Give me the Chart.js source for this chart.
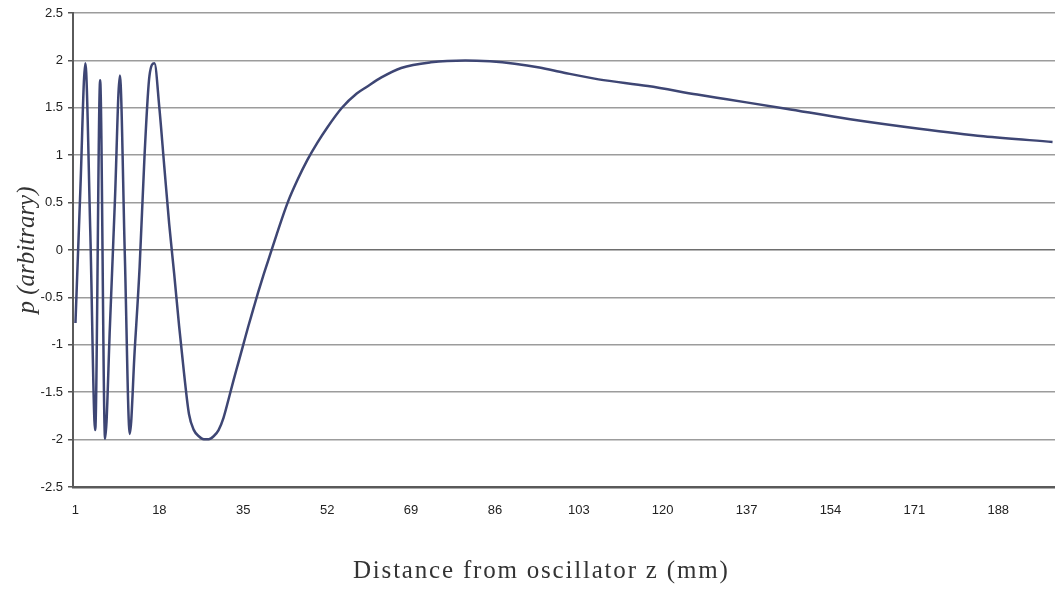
<!DOCTYPE html>
<html>
<head>
<meta charset="utf-8">
<script src="https://cdn.jsdelivr.net/npm/chart.js@4.4.1/dist/chart.umd.min.js"></script>
<style>
    body { margin: 0; background: #fff; }
    #wrap { position: relative; width: 1055px; height: 594px; }
    #xtitle {
        position: absolute; left: 353px; top: 557px;
        font-family: "Liberation Serif", serif; font-size: 25px; line-height: 25px;
        letter-spacing: 1.8px; color: #333; white-space: nowrap;
    }
</style>
</head>
<body>
<div id="wrap">
    <canvas id="p_Chart" width="1055" height="594"></canvas>
    <div id="xtitle">Distance from oscillator z (mm)</div>
</div>
<script>
// distance z (mm) and pressure p
const zValues = [
    1, 2, 3, 4, 5, 6, 7, 8, 9, 10,
    11, 12, 13, 14, 15, 16, 17, 18, 19, 20,
    21, 22, 23, 24, 25, 26, 27, 28, 29, 30,
    31, 32, 33, 34, 35, 36, 37, 38, 39, 40,
    41, 42, 44, 46, 48, 50, 52, 55, 58, 60,
    63, 67, 73, 80, 85, 90, 95, 100, 107, 117,
    127, 133, 145, 158, 172, 185, 199
];
const pValues = [
    -0.77, 0.65, 1.97, 0.2, -1.9, 1.79, -1.99, -0.78, 0.53, 1.84,
    -0.05, -1.94, -1.06, -0.18, 1.0, 1.84, 1.97, 1.5, 0.88, 0.27,
    -0.25, -0.8, -1.3, -1.73, -1.9, -1.965, -1.996, -1.996, -1.965, -1.9,
    -1.77, -1.58, -1.38, -1.19, -1.0, -0.81, -0.63, -0.45, -0.28, -0.12,
    0.04, 0.2, 0.5, 0.74, 0.95, 1.13, 1.29, 1.5, 1.65, 1.72,
    1.82, 1.92, 1.98, 2.0, 1.99, 1.965, 1.925, 1.87, 1.8, 1.73,
    1.64, 1.59, 1.49, 1.38, 1.28, 1.2, 1.14
];
const xTickLabels = [1, 18, 35, 52, 69, 86, 103, 120, 137, 154, 171, 188];

document.addEventListener('DOMContentLoaded', (event) => {
    const points = zValues.map((z, i) => ({ x: z, y: pValues[i] }));
    const ctx = document.getElementById('p_Chart').getContext('2d');
    new Chart(ctx, {
        type: 'line',
        data: {
            datasets: [{
                data: points,
                borderColor: '#3e4674',
                borderWidth: 2.5,
                pointRadius: 0,
                cubicInterpolationMode: 'monotone',
                fill: false
            }]
        },
        options: {
            responsive: false,
            animation: false,
            layout: {
                padding: { top: 13, right: 0, bottom: 0, left: 0 }
            },
            plugins: {
                legend: { display: false },
                tooltip: { enabled: false }
            },
            scales: {
                x: {
                    type: 'linear',
                    min: 0.5,
                    max: 199.5,
                    afterBuildTicks: (scale) => {
                        scale.ticks = xTickLabels.map(v => ({ value: v }));
                    },
                    afterFit: (scale) => {
                        scale.height = 107; // room below the axis, title is html
                    },
                    grid: { display: false, drawTicks: false },
                    border: { display: true, color: '#5a5a5a', width: 2.5 },
                    ticks: {
                        autoSkip: false,
                        maxRotation: 0,
                        padding: 16,
                        color: '#222',
                        font: { family: '"Liberation Sans", Arial, sans-serif', size: 13 },
                        callback: (value) => value
                    }
                },
                y: {
                    min: -2.5,
                    max: 2.5,
                    afterFit: (scale) => {
                        scale.width = 73;
                    },
                    grid: {
                        color: (c) => (c.tick && c.tick.value === 0) ? '#6e6e6e' : '#9c9c9c',
                        lineWidth: 1.5,
                        drawTicks: true,
                        tickLength: 5,
                        tickColor: '#555'
                    },
                    border: { display: true, color: '#5a5a5a', width: 2 },
                    ticks: {
                        stepSize: 0.5,
                        padding: 5,
                        color: '#222',
                        font: { family: '"Liberation Sans", Arial, sans-serif', size: 13 },
                        callback: (value) => String(Math.round(value * 10) / 10)
                    },
                    title: {
                        display: true,
                        text: 'p (arbitrary)',
                        color: '#333',
                        padding: { top: 12, bottom: 0 },
                        font: { family: '"Liberation Serif", serif', size: 25, style: 'italic' }
                    }
                }
            }
        }
    });
});
</script>
</body>
</html>
